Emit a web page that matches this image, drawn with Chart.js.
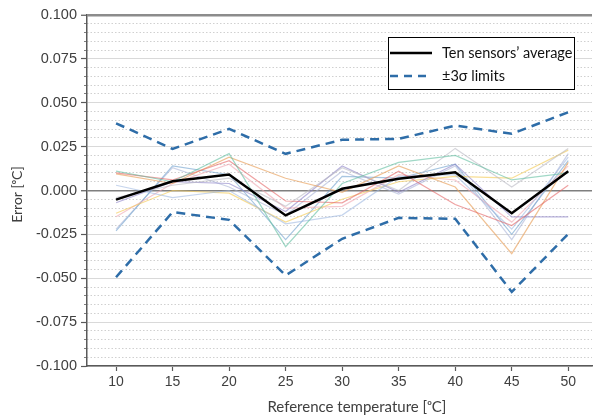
<!DOCTYPE html>
<html><head><meta charset="utf-8">
<script src="https://cdn.jsdelivr.net/npm/chart.js@4.4.1/dist/chart.umd.min.js"></script>
<style>html,body{margin:0;padding:0;background:#fff;}#wrap{width:593px;height:418px;}</style>
</head><body><div id="wrap"><canvas id="c" width="593" height="418"></canvas></div>
<script>
// ---- data ----
const temps = [10, 15, 20, 25, 30, 35, 40, 45, 50];
const xTicks = [10, 15, 20, 25, 30, 35, 40, 45, 50];
const yMajorTicks = [-0.1, -0.075, -0.05, -0.025, 0, 0.025, 0.05, 0.075, 0.1];
const yMinorTicks = Array.from({length: 41}, (_, i) => Math.round((-0.1 + i * 0.005) * 1000) / 1000);

const average = [-0.0052, 0.0053, 0.0091, -0.0142, 0.0010, 0.0067, 0.0104, -0.0129, 0.0110];
const upper3s = [0.0383, 0.0237, 0.0351, 0.0209, 0.0289, 0.0294, 0.0370, 0.0323, 0.0446];
const lower3s = [-0.0494, -0.0123, -0.0167, -0.0484, -0.0275, -0.0156, -0.0161, -0.0578, -0.0247];

const sensorTeal      = [0.011, 0.005, 0.021, -0.032, 0.004, 0.016, 0.020, 0.006, 0.010];
const sensorRed       = [0.010, 0.006, 0.017, -0.006, -0.007, 0.011, -0.008, -0.020, 0.003];
const sensorOrange    = [0.0095, 0.004, 0.019, 0.007, -0.001, 0.014, 0.002, -0.036, 0.016];
const sensorLightBlue = [0.003, -0.004, 0.000, -0.019, -0.014, 0.008, 0.009, -0.022, 0.019];
const sensorGray      = [-0.004, 0.003, 0.007, -0.009, 0.013, 0.000, 0.024, 0.002, 0.024];
const sensorLavender  = [-0.007, 0.005, 0.004, -0.012, 0.014, -0.001, 0.015, -0.015, -0.015];
const sensorYellow    = [-0.013, 0.000, -0.0015, -0.018, -0.005, 0.005, 0.008, 0.007, 0.023];
const sensorPink      = [-0.015, 0.004, 0.015, -0.010, -0.009, 0.009, 0.006, -0.018, 0.014];
const sensorSteel     = [-0.023, 0.014, 0.009, -0.028, 0.008, 0.007, 0.015, -0.025, 0.017];
const sensorGrayBlue  = [-0.022, 0.013, 0.002, -0.014, 0.011, -0.002, 0.014, -0.028, 0.021];

const legendLabels = ['Ten sensors\u2019 average', '\u00b13\u03c3 limits'];
const xTitle = 'Reference temperature [\u1d52C]';
const yTitle = 'Error [\u1d52C]';

// ---- build ----
const pts = arr => temps.map((t, i) => ({x: t, y: arr[i]}));
const thin = (arr, color) => ({data: pts(arr), borderColor: color, borderWidth: 1.2, pointRadius: 0, tension: 0, order: 2, fill: false});
const sensors = [
  thin(sensorTeal, 'rgba(96,190,160,0.6)'),
  thin(sensorRed, 'rgba(228,100,100,0.6)'),
  thin(sensorOrange, 'rgba(232,160,90,0.65)'),
  thin(sensorLightBlue, 'rgba(160,185,225,0.6)'),
  thin(sensorGray, 'rgba(185,185,195,0.6)'),
  thin(sensorLavender, 'rgba(140,130,200,0.6)'),
  thin(sensorYellow, 'rgba(245,205,90,0.65)'),
  thin(sensorPink, 'rgba(240,165,175,0.6)'),
  thin(sensorSteel, 'rgba(110,160,205,0.6)'),
  thin(sensorGrayBlue, 'rgba(170,180,215,0.6)')
];
const avgDs = {data: pts(average), borderColor: '#000000', borderWidth: 2.5, pointRadius: 0, tension: 0, order: 0};
const limColor = '#2e6da8';
const upDs = {data: pts(upper3s), borderColor: limColor, borderWidth: 2.5, borderDash: [9, 6], pointRadius: 0, tension: 0, order: 0};
const loDs = {data: pts(lower3s), borderColor: limColor, borderWidth: 2.5, borderDash: [9, 6], pointRadius: 0, tension: 0, order: 0};

const isMajor = v => Math.abs(Math.round(v / 0.025) * 0.025 - v) < 1e-6;

const boxLegend = {
  id: 'boxLegend',
  afterDraw(chart) {
    const ctx = chart.ctx;
    const a = chart.chartArea;
    const x0 = a.right - 204, y0 = a.top + 22, w = 186, h = 52;
    ctx.save();
    ctx.fillStyle = '#ffffff';
    ctx.fillRect(x0, y0, w, h);
    ctx.strokeStyle = '#000000';
    ctx.lineWidth = 1;
    ctx.strokeRect(x0 + 0.5, y0 + 0.5, w, h);
    const rows = [y0 + 16, y0 + 39];
    // sample lines
    ctx.lineWidth = avgDs.borderWidth;
    ctx.strokeStyle = avgDs.borderColor;
    ctx.setLineDash([]);
    ctx.beginPath(); ctx.moveTo(x0 + 2, rows[0]); ctx.lineTo(x0 + 44, rows[0]); ctx.stroke();
    ctx.strokeStyle = upDs.borderColor;
    ctx.lineWidth = upDs.borderWidth;
    ctx.setLineDash([8, 6]);
    ctx.beginPath(); ctx.moveTo(x0 + 2, rows[1]); ctx.lineTo(x0 + 44, rows[1]); ctx.stroke();
    ctx.setLineDash([]);
    ctx.fillStyle = '#111111';
    ctx.font = '14.5px Lato';
    ctx.textBaseline = 'middle';
    ctx.textAlign = 'left';
    ctx.fillText(legendLabels[0], x0 + 54, rows[0]);
    ctx.fillText(legendLabels[1], x0 + 54, rows[1]);
    ctx.restore();
  }
};

new Chart(document.getElementById('c'), {
  type: 'line',
  data: {datasets: [avgDs, upDs, loDs, ...sensors]},
  plugins: [boxLegend],
  options: {
    responsive: false, animation: false, devicePixelRatio: 1,
    layout: {padding: {top: 15, right: 1, bottom: 0, left: 0}},
    plugins: {legend: {display: false}, tooltip: {enabled: false}},
    scales: {
      x: {
        type: 'linear', min: 7.43, max: 52.1,
        afterBuildTicks: s => { s.ticks = xTicks.map(v => ({value: v})); },
        afterFit: s => { s.height = 52; },
        ticks: {font: {family: 'Liberation Sans', size: 14}, color: '#404040', padding: 3, callback: v => String(v)},
        grid: {drawOnChartArea: false, drawTicks: true, tickLength: 5, tickColor: '#595959', tickWidth: 1.2},
        border: {color: '#595959', width: 1.5},
        title: {display: true, text: '\u2007\u2007\u2007\u2007' + xTitle, font: {family: 'Lato', size: 15}, color: '#404040', padding: {top: 0, bottom: 2}}
      },
      y: {
        type: 'linear', min: -0.1, max: 0.1, weight: 1,
        afterBuildTicks: s => { s.ticks = yMajorTicks.map(v => ({value: v})); },
        afterFit: s => { s.width = 87; },
        ticks: {font: {family: 'Liberation Sans', size: 14.5}, color: '#404040', padding: 4, callback: v => v.toFixed(3)},
        grid: {
          drawTicks: true, tickLength: 6, tickColor: '#595959', tickWidth: 1.2,
          color: c => { const v = c.tick ? c.tick.value : 0; if (Math.abs(v - 0.1) < 1e-6) return '#8c8c8c'; if (Math.abs(v) < 1e-6) return '#7f7f7f'; return '#d9d9d9'; },
          lineWidth: c => { const v = c.tick ? c.tick.value : 0; if (Math.abs(v - 0.1) < 1e-6) return 2.5; if (Math.abs(v) < 1e-6) return 1.5; return 1; }
        },
        border: {color: '#595959', width: 1.5},
        title: {display: true, text: yTitle + '\u2007', font: {family: 'Lato', size: 14}, color: '#404040', padding: {top: 9, bottom: 0}}
      },
      y2: {
        type: 'linear', position: 'left', min: -0.1, max: 0.1, weight: 0,
        afterBuildTicks: s => { s.ticks = yMinorTicks.map(v => ({value: v})); },
        afterFit: s => { s.width = 0; },
        ticks: {display: false},
        grid: {
          drawTicks: true, tickLength: 3, tickWidth: 1,
          tickColor: c => (c.tick && isMajor(c.tick.value)) ? 'rgba(0,0,0,0)' : '#7f7f7f',
          color: c => (c.tick && isMajor(c.tick.value)) ? 'rgba(0,0,0,0)' : '#d0d0d0',
          lineWidth: 1
        },
        border: {display: false, dash: [1.5, 2]}
      }
    }
  }
});
</script></body></html>
